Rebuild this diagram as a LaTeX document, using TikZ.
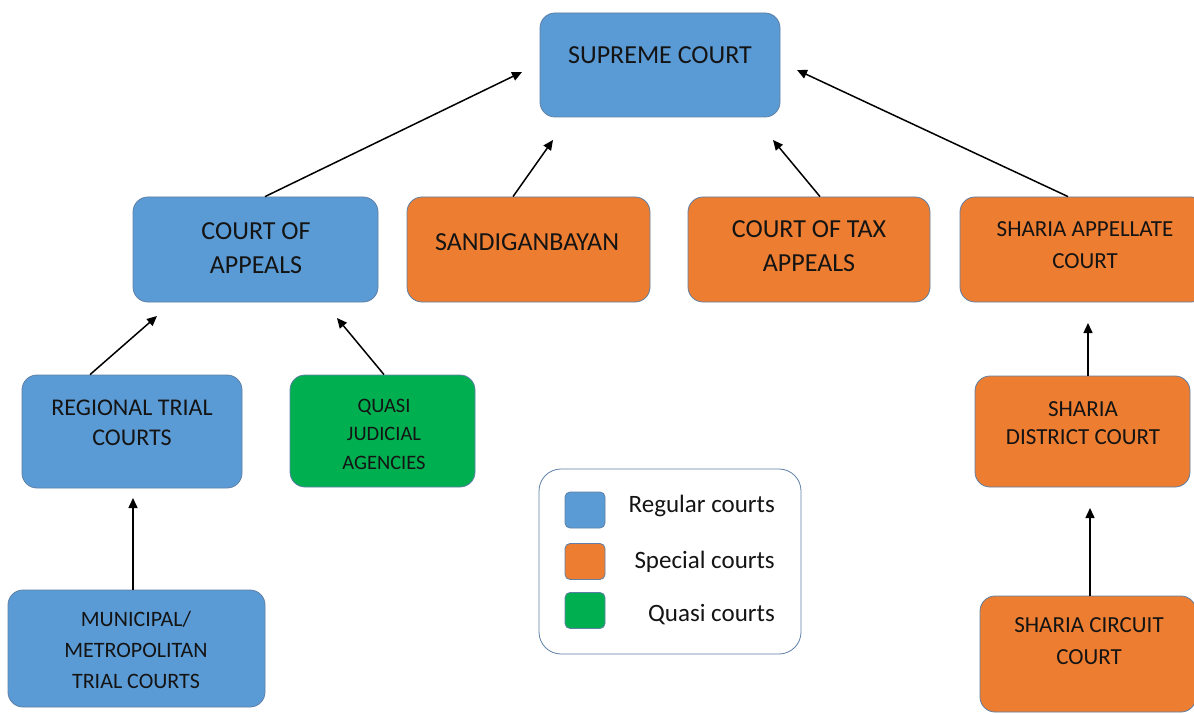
\documentclass[tikz,border=0pt]{standalone}
\usepackage{fontspec}
\setmainfont{Carlito}
\usetikzlibrary{arrows.meta}
\definecolor{cblue}{HTML}{5B9BD5}
\definecolor{corange}{HTML}{ED7D31}
\definecolor{cgreen}{HTML}{00B050}
\definecolor{cedge}{HTML}{5E80A6}
\definecolor{ctext}{HTML}{141414}
\tikzset{
  box/.style={draw=cedge, line width=0.8pt, rounded corners=15pt, inner sep=0pt},
  regbox/.style={box, fill=cblue},
  specbox/.style={box, fill=corange},
  quasibox/.style={box, fill=cgreen},
  lbl/.style={text=ctext, align=center, font=\fontsize{26}{30}\selectfont, inner sep=0pt},
  arr/.style={-{Triangle[length=10pt,width=9pt]}, line width=1.5pt, black},
  swatch/.style={draw=cedge, line width=0.8pt, rounded corners=5pt, minimum width=40pt, minimum height=36pt, inner sep=0pt},
  legtxt/.style={text=ctext, font=\fontsize{25}{28}\selectfont, anchor=base east, inner sep=0pt}
}
\begin{document}
\begin{tikzpicture}[x=1pt,y=-1pt]
\useasboundingbox (0,0) rectangle (1194,714);
\clip (0,0) rectangle (1194,714);
\fill[white] (0,0) rectangle (1194,714);

% boxes
\node[regbox, minimum width=240pt, minimum height=104pt] (sc) at (660,65) {};
\node[regbox, minimum width=245pt, minimum height=105pt] (coa) at (255.5,249.5) {};
\node[specbox, minimum width=243pt, minimum height=105pt] (sdb) at (528.5,249.5) {};
\node[specbox, minimum width=242pt, minimum height=105pt] (cta) at (809,249.5) {};
\node[specbox, minimum width=246pt, minimum height=105pt] (saa) at (1083,249.5) {};
\node[regbox, minimum width=220pt, minimum height=113pt] (rtc) at (132,431.5) {};
\node[quasibox, minimum width=185pt, minimum height=112pt] (qja) at (382.5,431) {};
\node[regbox, minimum width=257pt, minimum height=117pt] (mtc) at (136.5,648.5) {};
\node[specbox, minimum width=215pt, minimum height=111pt] (sdc) at (1082.5,431.5) {};
\node[specbox, minimum width=216pt, minimum height=116pt] (scc) at (1088,654) {};

% labels
\node[lbl] (sct) at (660,55) {SUPREME COURT};
\node[lbl, font=\fontsize{26}{34}\selectfont] (coat) at (256,248) {COURT OF\\APPEALS};
\node[lbl] (sdbt) at (527,242) {SANDIGANBAYAN};
\node[lbl, font=\fontsize{26}{34}\selectfont] (ctat) at (809,246) {COURT OF TAX\\APPEALS};
\node[lbl, font=\fontsize{23}{32}\selectfont] (saat) at (1085,245) {SHARIA APPELLATE\\COURT};
\node[lbl, font=\fontsize{24}{30}\selectfont] (rtct) at (132,423) {REGIONAL TRIAL\\COURTS};
\node[lbl, font=\fontsize{20.5}{28.5}\selectfont] (qjat) at (384,434) {QUASI\\JUDICIAL\\AGENCIES};
\node[lbl, font=\fontsize{22}{31}\selectfont] (mtct) at (136,650) {MUNICIPAL/\\METROPOLITAN\\TRIAL COURTS};
\node[lbl, font=\fontsize{23}{28}\selectfont] (sdct) at (1083,423) {SHARIA\\DISTRICT COURT};
\node[lbl, font=\fontsize{23}{32}\selectfont] (scct) at (1089,641) {SHARIA CIRCUIT\\COURT};

% arrow tips
\coordinate (t1) at (522,72);
\coordinate (t2) at (553,140);
\coordinate (t3) at (773,140);
\coordinate (t4) at (797,70);
\coordinate (t5) at (157,316);
\coordinate (t6) at (337,318);
\coordinate (t7) at (133,498);
\coordinate (t8) at (1088,323);
\coordinate (t9) at (1090,508);

\draw[arr] ([xshift=9.5pt]coa.north) -- (t1);
\draw[arr] ([xshift=-15.5pt]sdb.north) -- (t2);
\draw[arr] ([xshift=11pt]cta.north) -- (t3);
\draw[arr] ([xshift=-15pt]saa.north) -- (t4);
\draw[arr] ([xshift=-42pt]rtc.north) -- (t5);
\draw[arr] ([xshift=1.5pt]qja.north) -- (t6);
\draw[arr] ([xshift=-3.5pt]mtc.north) -- (t7);
\draw[arr] ([xshift=5.5pt]sdc.north) -- (t8);
\draw[arr] ([xshift=2pt]scc.north) -- (t9);

% legend
\node[draw=cedge, line width=0.8pt, fill=white, rounded corners=22pt, minimum width=262pt, minimum height=185pt, inner sep=0pt] (leg) at (670,561.5) {};
\node[swatch, fill=cblue] (s1) at (585,510) {};
\node[swatch, fill=corange] (s2) at (585,561.5) {};
\node[swatch, fill=cgreen] (s3) at (585,610.5) {};
\node[legtxt] (l1) at (775,512) {Regular courts};
\node[legtxt] (l2) at (775,568) {Special courts};
\node[legtxt] (l3) at (775,621) {Quasi courts};
\end{tikzpicture}
\end{document}
